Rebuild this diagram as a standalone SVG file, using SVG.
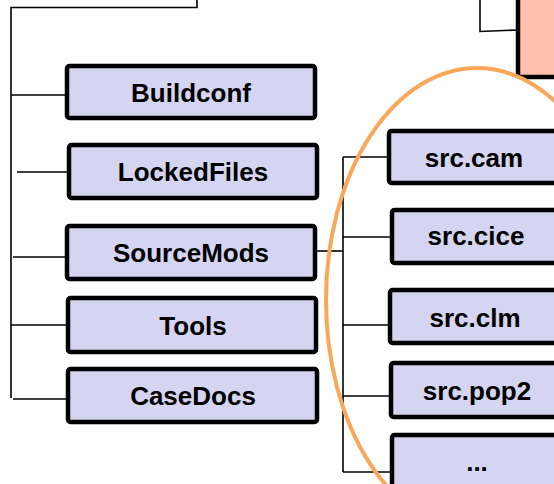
<svg xmlns="http://www.w3.org/2000/svg" width="554" height="484" viewBox="0 0 554 484">
<style>
.box{fill:#d5d5f1;stroke:#000;stroke-width:4.5}
.hl{fill:#fcc0ab;stroke:#000;stroke-width:4.5}
.c{fill:none;stroke:#000;stroke-width:1.6}
.t{font-family:"Liberation Sans",Arial,sans-serif;font-weight:bold;font-size:26px;fill:#000;text-anchor:middle}
</style>
<rect width="554" height="484" fill="#fff"/>
<g id="connectors">
<polyline class="c" points="197,0 197,7.5 11,7.5 11,398"/>
<line class="c" x1="11" y1="95" x2="67" y2="95"/>
<line class="c" x1="17" y1="172" x2="68" y2="172"/>
<line class="c" x1="13" y1="257" x2="67" y2="257"/>
<line class="c" x1="11" y1="325" x2="68" y2="325"/>
<line class="c" x1="13" y1="399" x2="67" y2="399"/>
<line class="c" x1="315" y1="251" x2="343" y2="251"/>
<line class="c" x1="343" y1="157" x2="343" y2="472"/>
<line class="c" x1="343" y1="157" x2="389" y2="157"/>
<line class="c" x1="343" y1="237" x2="391" y2="237"/>
<line class="c" x1="343" y1="325" x2="390" y2="325"/>
<line class="c" x1="343" y1="396" x2="391" y2="396"/>
<line class="c" x1="343" y1="472" x2="392" y2="472"/>
<polyline class="c" points="480,0 480,31.5 518,30"/>
</g>
<g id="parent"><rect class="hl" x="518" y="-10" width="60" height="87" rx="2"/></g>
<g id="Buildconf"><rect class="box" x="67" y="66" width="248" height="52" rx="2.5"/><text class="t" x="191" y="102">Buildconf</text></g>
<g id="LockedFiles"><rect class="box" x="69" y="145" width="248" height="53" rx="2.5"/><text class="t" x="193" y="181">LockedFiles</text></g>
<g id="SourceMods"><rect class="box" x="67" y="226" width="248" height="53" rx="2.5"/><text class="t" x="191" y="262">SourceMods</text></g>
<g id="Tools"><rect class="box" x="68" y="298" width="248" height="54" rx="2.5"/><text class="t" x="193" y="335">Tools</text></g>
<g id="CaseDocs"><rect class="box" x="68" y="369" width="249" height="53" rx="2.5"/><text class="t" x="193" y="405">CaseDocs</text></g>
<g id="src.cam"><rect class="box" x="389" y="131" width="220" height="52" rx="2.5"/><text class="t" x="474" y="167">src.cam</text></g>
<g id="src.cice"><rect class="box" x="392" y="210" width="220" height="53" rx="2.5"/><text class="t" x="476" y="245">src.cice</text></g>
<g id="src.clm"><rect class="box" x="390" y="290" width="220" height="53" rx="2.5"/><text class="t" x="475" y="327">src.clm</text></g>
<g id="src.pop2"><rect class="box" x="391" y="363" width="220" height="54" rx="2.5"/><text class="t" x="477" y="400">src.pop2</text></g>
<g id="more"><rect class="box" x="392" y="435" width="220" height="70" rx="2.5"/><text class="t" x="477" y="471">...</text></g>
<g id="highlight"><ellipse cx="477" cy="300" rx="151" ry="232" fill="none" stroke="#f9a85a" stroke-width="4"/></g>
</svg>
